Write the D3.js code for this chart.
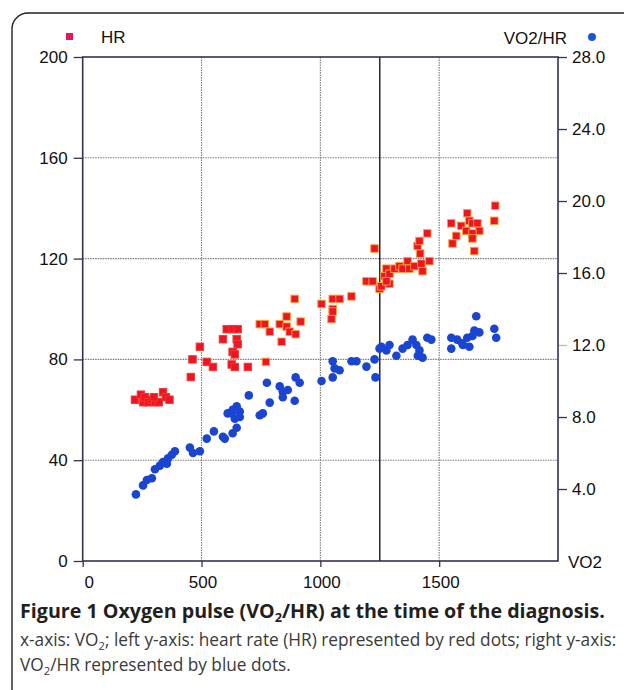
<!DOCTYPE html>
<html>
<head>
<meta charset="utf-8">
<script src="https://cdn.jsdelivr.net/npm/d3@7/dist/d3.min.js"></script>
<style>
  body { margin: 0; background: #fff; }
  svg { display: block; }
</style>
</head>
<body>
<svg id="chart"></svg>
<script>
'use strict';
// HR (red squares) - VO2 vs heart rate, left axis
var hrVO2 = [220, 245, 255, 262, 275, 290, 305, 320, 338, 350, 365, 300,
  455, 462, 493, 522, 548, 590, 606, 631, 652, 648, 652, 631, 640, 627, 640, 695,
  771, 745, 766, 787, 837, 829, 858, 858, 871, 896, 917, 892,
  1005, 1052, 1081, 1052, 1047, 1052, 1131, 1194, 1220, 1249, 1270, 1291, 1278,
  1228, 1257, 1278, 1291, 1312, 1333, 1346, 1367, 1375, 1396, 1425, 1430, 1459,
  1420, 1409, 1417, 1450, 1551, 1593, 1614, 1618, 1627, 1640, 1661, 1669, 1640,
  1640, 1572, 1556, 1648, 1736, 1732];
var hrValues = [64, 66, 63, 65, 63, 64, 63, 63, 67, 65, 64, 65,
  73, 80, 85, 79, 77, 88, 92, 92, 92, 88, 86, 83, 82, 78, 77, 77,
  79, 94, 94, 91, 87, 94, 97, 93, 91, 90, 95, 104,
  102, 104, 104, 100, 96, 99, 105, 111, 111, 108, 113, 110, 116,
  124, 109, 111, 114, 116, 117, 116, 119, 116, 117, 118, 115, 119,
  122, 125, 127, 130, 134, 133, 131, 138, 135, 134, 134, 131, 130,
  128, 129, 126, 123, 141, 135];

// VO2/HR (blue dots) - right axis
var pulseVO2 = [224, 254, 270, 291, 304, 325, 338, 354, 359, 375, 388, 451, 464, 493,
  522, 552, 598, 610, 590, 631, 648, 640, 627, 648, 661, 661, 631, 699, 745, 758,
  787, 775, 829, 842, 863, 842, 892, 896, 913, 1005, 1052, 1060, 1052, 1081, 1131,
  1152, 1194, 1228, 1232, 1249, 1278, 1291, 1320, 1346, 1367, 1257, 1388, 1404,
  1417, 1450, 1467, 1430, 1410, 1551, 1551, 1576, 1597, 1618, 1627, 1648, 1656,
  1669, 1640, 1732, 1740, 1600];
var pulseValues = [3.7, 4.2, 4.5, 4.6, 5.1, 5.3, 5.5, 5.4, 5.7, 5.9, 6.1, 6.3, 6.0, 6.1,
  6.8, 7.2, 6.8, 8.2, 6.9, 7.1, 7.4, 7.9, 8.2, 8.6, 8.3, 8.0, 8.4, 9.2, 8.1, 8.2,
  8.8, 9.9, 9.7, 9.4, 9.5, 9.1, 8.9, 10.2, 9.9, 10.0, 11.1, 10.7, 10.2, 10.6, 11.1,
  11.1, 10.8, 11.2, 10.2, 11.8, 11.7, 12.0, 11.4, 11.8, 12.0, 11.9, 12.3, 12.0,
  11.7, 12.4, 12.3, 11.3, 11.4, 12.4, 11.8, 12.3, 12.1, 12.4, 11.9, 12.8, 13.6,
  12.7, 12.5, 12.9, 12.4, 12.0];

var xTicks = [0, 500, 1000, 1500];
var leftTicks = [0, 40, 80, 120, 160, 200];
var rightTicks = [4, 8, 12, 16, 20, 24, 28];
var thresholdVO2 = 1250;

var canvasWidth = 624;
var canvasHeight = 690;
var plot = { left: 82.7, right: 558, top: 57, bottom: 561 };

var svg = d3.select('#chart')
  .attr('width', canvasWidth)
  .attr('height', canvasHeight);

var xScale = d3.scaleLinear().domain([0, 2000]).range([plot.left, plot.right]);
var yLeft = d3.scaleLinear().domain([0, 200]).range([plot.bottom, plot.top]);
var yRight = d3.scaleLinear().domain([0, 28]).range([plot.bottom, plot.top]);

var axisColor = '#3b2f50';
var labelFont = '"Liberation Sans", Arial, sans-serif';

// rounded figure frame
svg.append('rect')
  .attr('x', 12).attr('y', 13)
  .attr('width', 660).attr('height', 720)
  .attr('rx', 16)
  .attr('fill', 'none')
  .attr('stroke', '#222')
  .attr('stroke-width', 1.4);

// grid
var grid = svg.append('g');
grid.selectAll('.hgrid').data([40, 80, 120, 160]).enter().append('line')
  .attr('x1', plot.left).attr('x2', plot.right)
  .attr('y1', function(d) { return yLeft(d); })
  .attr('y2', function(d) { return yLeft(d); })
  .attr('stroke', '#7d7680').attr('stroke-width', 1.1)
  .attr('stroke-dasharray', '1.5,1');
grid.selectAll('.vgrid').data([500, 1000, 1500]).enter().append('line')
  .attr('y1', plot.top).attr('y2', plot.bottom)
  .attr('x1', function(d) { return xScale(d); })
  .attr('x2', function(d) { return xScale(d); })
  .attr('stroke', '#7d7680').attr('stroke-width', 1.1)
  .attr('stroke-dasharray', '1.5,1');
grid.append('line')
  .attr('y1', plot.top).attr('y2', plot.bottom)
  .attr('x1', xScale(thresholdVO2)).attr('x2', xScale(thresholdVO2))
  .attr('stroke', '#2b2735').attr('stroke-width', 1.5);

// axes
var leftAxis = svg.append('g')
  .attr('transform', 'translate(' + plot.left + ',0)')
  .call(d3.axisLeft(yLeft).tickValues(leftTicks).tickSize(9).tickPadding(6));
var rightAxis = svg.append('g')
  .attr('transform', 'translate(' + plot.right + ',0)')
  .call(d3.axisRight(yRight).tickValues(rightTicks).tickSize(9).tickPadding(5)
    .tickFormat(d3.format('.1f')));
var bottomAxis = svg.append('g')
  .attr('transform', 'translate(0,' + plot.bottom + ')')
  .call(d3.axisBottom(xScale).tickValues(xTicks).tickSize(6).tickPadding(9)
    .tickFormat(d3.format('d')));

[leftAxis, rightAxis, bottomAxis].forEach(function(a) {
  a.select('.domain').remove();
  a.selectAll('line').attr('stroke', axisColor).attr('stroke-width', 1.3);
  a.selectAll('text')
    .attr('fill', '#111')
    .style('font-family', labelFont)
    .style('font-size', '17px');
});
bottomAxis.selectAll('.tick text').attr('dx', function(d) { return d === 0 ? 6 : 1; });
rightAxis.selectAll('.tick line').attr('stroke', function(d) { return d === 12 ? '#d8c060' : axisColor; });

// plot frame
svg.append('rect')
  .attr('x', plot.left).attr('y', plot.top)
  .attr('width', plot.right - plot.left).attr('height', plot.bottom - plot.top)
  .attr('fill', 'none')
  .attr('stroke', axisColor).attr('stroke-width', 1.6);

// points
var hrData = hrVO2.map(function(v, i) { return { x: v, y: hrValues[i] }; });
var pulseData = pulseVO2.map(function(v, i) { return { x: v, y: pulseValues[i] }; });

svg.append('g').selectAll('circle').data(pulseData).enter().append('circle')
  .attr('cx', function(d) { return xScale(d.x); })
  .attr('cy', function(d) { return yRight(d.y); })
  .attr('r', 4.3)
  .attr('fill', '#1a45d2');

var sq = 7.5;
svg.append('g').selectAll('rect').data(hrData).enter().append('rect')
  .attr('x', function(d) { return xScale(d.x) - sq / 2; })
  .attr('y', function(d) { return yLeft(d.y) - sq / 2; })
  .attr('width', sq).attr('height', sq)
  .attr('fill', '#ee1424')
  .attr('stroke', function(d) { return d.x > 700 ? '#f4a43a' : '#f23a30'; })
  .attr('stroke-width', 0.9);

// legends and axis titles
svg.append('rect').attr('x', 66).attr('y', 33).attr('width', 7).attr('height', 7)
  .attr('fill', '#ee1458');
svg.append('text').attr('x', 101).attr('y', 43).text('HR')
  .style('font-family', labelFont).style('font-size', '17px').attr('fill', '#111');
svg.append('text').attr('x', 567).attr('y', 44).attr('text-anchor', 'end').text('VO2/HR')
  .style('font-family', labelFont).style('font-size', '17px').attr('fill', '#111');
svg.append('circle').attr('cx', 592).attr('cy', 37).attr('r', 4).attr('fill', '#1a55e0');
svg.append('text').attr('x', 568).attr('y', 568).text('VO2')
  .style('font-family', labelFont).style('font-size', '17px').attr('fill', '#111');

// caption
var capFont = '"Open Sans", "Noto Sans", sans-serif';
function captionLine(y, parts, weight, size, color, targetWidth) {
  var t = svg.append('text').attr('x', 20).attr('y', y)
    .style('font-family', capFont).style('font-weight', weight)
    .attr('fill', color);
  function applySize(s) {
    t.style('font-size', s + 'px');
    t.selectAll('tspan').each(function(p, i) {
      d3.select(this).style('font-size', parts[i].sub ? (s * 0.65) + 'px' : null);
    });
  }
  parts.forEach(function(p) {
    var sp = t.append('tspan').text(p.text);
    if (p.sub) sp.attr('dy', 4);
    else if (p.after) sp.attr('dy', -4);
  });
  applySize(size);
  if (targetWidth) {
    var w = t.node().getComputedTextLength();
    if (w > 0) {
      size = size * targetWidth / w;
      applySize(size);
    }
  }
  return size;
}
captionLine(618, [
  { text: 'Figure 1 Oxygen pulse (VO' }, { text: '2', sub: true },
  { text: '/HR) at the time of the diagnosis.', after: true }
], 700, 17, '#231f20', 585);
var bodySize = captionLine(646, [
  { text: 'x-axis: VO' }, { text: '2', sub: true },
  { text: '; left y-axis: heart rate (HR) represented by red dots; right y-axis:', after: true }
], 400, 15, '#3a3a3a', 597);
captionLine(671, [
  { text: 'VO' }, { text: '2', sub: true },
  { text: '/HR represented by blue dots.', after: true }
], 400, bodySize, '#3a3a3a', null);
</script>
</body>
</html>
